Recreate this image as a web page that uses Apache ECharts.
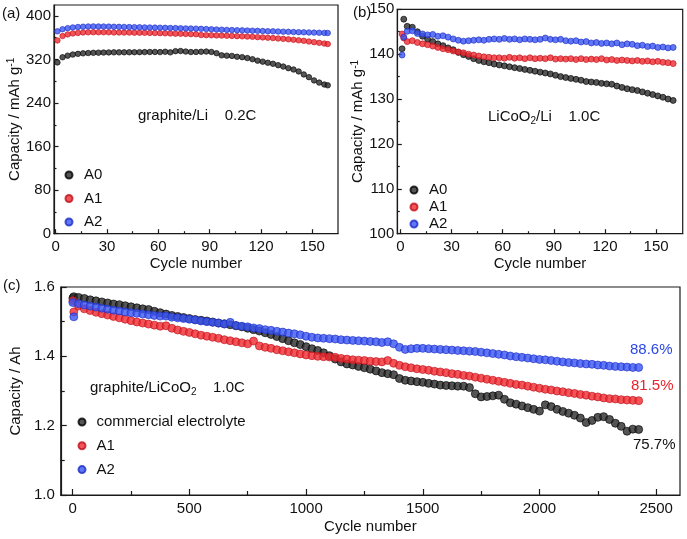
<!DOCTYPE html>
<html>
<head>
<meta charset="utf-8">
<script src="https://cdn.jsdelivr.net/npm/echarts@6/dist/echarts.min.js"></script>
<style>
html,body{margin:0;padding:0;background:#fff;}
#chart{width:687px;height:539px;}
</style>
</head>
<body>
<div id="chart"></div>
<script>
// ---------- DATA ----------
// (a) graphite/Li 0.2C
const cyclesA = [1,4,7,10,13,16,19,22,25,28,31,34,37,40,43,46,49,52,55,58,61,64,67,70,73,76,79,82,85,88,91,94,97,100,103,106,109,112,115,118,121,124,127,130,133,136,139,142,145,148,151,154,157,159];
const capA_A0 = [314.6,324,327,329,330.3,331.2,331.8,332.2,332.5,332.7,332.9,333,333,333.1,333.2,333.3,333.4,333.5,333.7,333.8,333.5,334.2,333.0,335.2,335.5,334.5,333.6,333.8,334.2,334.5,333.8,331.5,327.5,327,326.5,325,324.2,322.5,320.5,317.8,316,314,312,309.5,307,304,301.5,298,292.5,287.5,281.5,277.5,274,272.5];
const capA_A1 = [355.0,363.0,366.0,367.8,368.8,369.5,369.8,370.0,370.0,369.9,369.8,369.6,369.5,369.4,369.3,369.1,369.0,368.9,368.7,368.5,368.3,368.0,367.7,367.4,367.1,366.8,366.5,366.2,364.8,364.6,364.4,364.1,363.8,363.5,363.2,362.8,362.4,362.0,361.5,361.0,360.5,359.9,359.2,358.5,357.8,357.0,356.1,355.2,354.2,353.0,351.8,350.5,349.2,348.3];
const capA_A2 = [371.6,375.5,377.5,378.8,379.6,380.2,380.6,380.7,380.6,380.5,380.3,380.1,379.9,379.7,379.5,379.3,379.1,378.9,378.7,378.5,378.3,378.1,377.9,377.6,377.3,377.0,376.8,376.6,376.2,375.8,375.4,375.0,374.7,374.3,374.0,373.7,373.4,373.1,372.8,372.5,372.2,371.9,371.6,371.3,371.0,370.7,370.4,370.1,369.8,369.5,369.3,369.0,368.8,368.6];

// (b) LiCoO2/Li 1.0C
const cyclesB = [1,2,4,7,10,13,16,19,22,25,28,31,34,37,40,43,46,49,52,55,58,61,64,67,70,73,76,79,82,85,88,91,94,97,100,103,106,109,112,115,118,121,124,127,130,133,136,139,142,145,148,151,154,157,160];
const capB_A0 = [141.2,147.8,146.2,146.0,145.0,144.0,143.3,142.8,142.3,141.9,141.4,141.0,140.4,139.9,139.5,139.0,138.6,138.3,138.1,137.8,137.6,137.4,137.2,137.0,136.8,136.6,136.4,136.2,136.0,135.8,135.6,135.3,135.0,134.8,134.6,134.4,134.2,133.9,133.8,133.7,133.5,133.4,133.3,132.9,132.6,132.3,132.1,131.9,131.6,131.3,131.0,130.7,130.4,130.0,129.7];
const capB_A1 = [144.5,143.6,142.8,143.0,142.6,142.3,142.1,141.8,141.5,141.2,141.0,140.7,140.5,140.3,140.0,139.8,139.6,139.4,139.3,139.2,139.2,139.1,139.3,139.1,139.2,139.0,139.2,139.0,139.1,139.0,139.2,138.9,139.0,138.9,139.0,138.8,139.0,138.8,138.9,138.8,139.0,138.7,138.8,138.6,138.7,138.6,138.5,138.6,138.4,138.5,138.3,138.4,138.2,138.1,137.9];
const capB_A2 = [139.8,143.8,145.1,145.2,144.6,144.5,144.3,144.4,144.0,144.1,143.8,143.4,143.1,142.9,143.0,143.1,143.2,143.1,143.3,143.4,143.3,143.5,143.3,143.4,143.2,143.4,143.3,143.2,143.3,143.6,143.3,143.2,143.3,143.0,142.9,143.0,142.7,142.8,142.5,142.6,142.4,142.5,142.3,142.5,142.1,142.3,142.2,141.9,142.0,141.7,141.8,141.5,141.6,141.4,141.5];

// (c) graphite/LiCoO2 1.0C
const cyclesC = [1,5,25,50,75,100,125,150,175,200,225,250,275,300,325,350,375,400,425,450,475,500,525,550,575,600,625,650,675,700,725,750,775,800,825,850,875,900,925,950,975,1000,1025,1050,1075,1100,1125,1150,1175,1200,1225,1250,1275,1300,1325,1350,1375,1400,1425,1450,1475,1500,1525,1550,1575,1600,1625,1650,1675,1700,1725,1750,1775,1800,1825,1850,1875,1900,1925,1950,1975,2000,2025,2050,2075,2100,2125,2150,2175,2200,2225,2250,2275,2300,2325,2350,2375,2400,2425];
const capC_comm = [1.568,1.572,1.570,1.567,1.563,1.560,1.557,1.554,1.551,1.549,1.546,1.543,1.540,1.537,1.535,1.530,1.526,1.522,1.518,1.515,1.512,1.509,1.506,1.504,1.502,1.499,1.496,1.494,1.491,1.488,1.485,1.481,1.477,1.473,1.468,1.463,1.457,1.451,1.445,1.439,1.434,1.428,1.422,1.417,1.410,1.402,1.392,1.384,1.378,1.375,1.371,1.367,1.363,1.358,1.353,1.350,1.347,1.336,1.331,1.329,1.327,1.325,1.322,1.320,1.317,1.316,1.315,1.314,1.314,1.310,1.292,1.283,1.284,1.286,1.288,1.276,1.266,1.262,1.257,1.252,1.247,1.242,1.260,1.255,1.247,1.241,1.236,1.230,1.222,1.209,1.215,1.224,1.226,1.218,1.207,1.198,1.184,1.190,1.189];
const capC_A1 = [1.560,1.528,1.545,1.537,1.532,1.527,1.523,1.519,1.515,1.511,1.507,1.503,1.499,1.496,1.493,1.490,1.487,1.488,1.481,1.476,1.472,1.469,1.465,1.461,1.458,1.455,1.452,1.448,1.445,1.442,1.439,1.436,1.444,1.430,1.426,1.423,1.419,1.416,1.413,1.410,1.407,1.404,1.402,1.400,1.399,1.398,1.397,1.394,1.392,1.390,1.389,1.388,1.386,1.385,1.384,1.388,1.380,1.374,1.370,1.367,1.364,1.362,1.360,1.357,1.355,1.353,1.350,1.348,1.345,1.343,1.340,1.337,1.334,1.331,1.328,1.325,1.322,1.319,1.317,1.314,1.311,1.308,1.305,1.303,1.300,1.298,1.295,1.293,1.290,1.288,1.285,1.283,1.280,1.278,1.277,1.275,1.274,1.273,1.272];
const capC_A2 = [1.555,1.514,1.552,1.548,1.545,1.542,1.539,1.536,1.533,1.531,1.528,1.526,1.524,1.522,1.520,1.518,1.516,1.516,1.513,1.511,1.509,1.507,1.505,1.502,1.500,1.498,1.496,1.493,1.498,1.489,1.487,1.485,1.482,1.480,1.477,1.475,1.472,1.470,1.467,1.465,1.462,1.458,1.455,1.453,1.452,1.451,1.450,1.448,1.447,1.446,1.445,1.444,1.443,1.442,1.440,1.442,1.436,1.426,1.420,1.422,1.423,1.423,1.422,1.421,1.420,1.419,1.418,1.417,1.416,1.415,1.414,1.412,1.410,1.408,1.406,1.404,1.401,1.399,1.397,1.395,1.393,1.391,1.390,1.388,1.386,1.384,1.382,1.381,1.379,1.378,1.377,1.375,1.374,1.372,1.371,1.370,1.369,1.368,1.368];

// tick labels
const xTicksAB = [0,30,60,90,120,150];
const xMinorAB = [15,45,75,105,135];
const yTicksA = [0,80,160,240,320,400];
const yMinorA = [40,120,200,280,360];
const yTicksB = [100,110,120,130,140,150];
const yMinorB = [105,115,125,135,145];
const xTicksC = [0,500,1000,1500,2000,2500];
const xMinorC = [250,750,1250,1750,2250];
const yTicksC = [1.0,1.2,1.4,1.6];
const yMinorC = [1.1,1.3,1.5];

// ---------- CHART ----------
function check(x, ys){ ys.forEach(y=>{ if (y.length!==x.length) throw new Error('length mismatch '+x.length+' vs '+y.length); }); }
check(cyclesA,[capA_A0,capA_A1,capA_A2]);
check(cyclesB,[capB_A0,capB_A1,capB_A2]);
check(cyclesC,[capC_comm,capC_A1,capC_A2]);
function zip(xs, ys){ return xs.map((x,i)=>[x, ys[i]]); }

const FONT = '"Liberation Sans", Arial, sans-serif';
const AX = '#1a1a1a';
const TXT = '#111';
const BLACK = {color:'#2a2a2a', borderColor:'#000', borderWidth:0.8};
const RED = {color:'#ee2a30', borderColor:'#c0101a', borderWidth:0.8};
const BLUE = {color:'#3a55f0', borderColor:'#1c2cc8', borderWidth:0.8};

// per grid, per dimension: axis 0 = line + labels + major ticks + name; axis 1 = minor ticks only
function mainAxis(dim, grid, min, max, majors, len, opts){
  return {
    type:'value', gridIndex:grid, min:min, max:max,
    axisLine:{show:true, onZero:false, lineStyle:{color:AX, width:1.2}},
    axisTick:{show:true, inside:true, length:len, customValues:majors, lineStyle:{color:AX, width:1.2}},
    axisLabel:{customValues:majors, margin:opts.margin, fontSize:15, color:TXT, fontFamily:FONT,
               formatter: opts.fmt || (v=>String(v))},
    splitLine:{show:false},
    name: opts.name, nameLocation:'middle', nameGap: opts.nameGap,
    nameTextStyle:{fontSize:15, color:TXT, fontFamily:FONT, rich:{
      sup:{fontSize:10, color:TXT, fontFamily:FONT, verticalAlign:'top', padding:[0,0,6,0]},
      n:{fontSize:15, color:TXT, fontFamily:FONT}
    }}
  };
}
function minorAxis(dim, grid, min, max, minors, len){
  return {
    type:'value', gridIndex:grid, min:min, max:max,
    position: dim==='x' ? 'bottom' : 'left',
    axisLine:{show:false, onZero:false},
    axisTick:{show:true, inside:true, length:len, customValues:minors, lineStyle:{color:AX, width:1.2}},
    axisLabel:{show:false}, splitLine:{show:false}
  };
}

const yNameMAh = '{n|Capacity / mAh g}{sup|-1}';

const option = {
  backgroundColor:'#fff',
  animation:false,
  grid:[
    {left:54, top:5, width:284, height:228.7, show:true, borderColor:AX, borderWidth:1.2},
    {left:397.3, top:9.3, width:285.4, height:224.4, show:true, borderColor:AX, borderWidth:1.2},
    {left:59.3, top:287, width:620.7, height:208, show:true, borderColor:AX, borderWidth:1.2}
  ],
  xAxis:[
    mainAxis('x',0,-1,165,xTicksAB,4.5,{margin:6,name:'Cycle number',nameGap:23}),
    minorAxis('x',0,-1,165,xMinorAB,2.5),
    mainAxis('x',1,-1.8,165.6,xTicksAB,4.5,{margin:6,name:'Cycle number',nameGap:23}),
    minorAxis('x',1,-1.8,165.6,xMinorAB,2.5),
    mainAxis('x',2,-51,2602,xTicksC,6,{margin:6.5,name:'Cycle number',nameGap:24}),
    minorAxis('x',2,-51,2602,xMinorC,4)
  ],
  yAxis:[
    mainAxis('y',0,0,420,yTicksA,4.5,{margin:3,name:yNameMAh,nameGap:30}),
    minorAxis('y',0,0,420,yMinorA,2.5),
    mainAxis('y',1,100,150,yTicksB,4.5,{margin:3,name:yNameMAh,nameGap:26}),
    minorAxis('y',1,100,150,yMinorB,2.5),
    mainAxis('y',2,1.0,1.6,yTicksC,6,{margin:6,name:'Capacity / Ah',nameGap:36,fmt:v=>Number(v).toFixed(1)}),
    minorAxis('y',2,1.0,1.6,yMinorC,4)
  ],
  legend:[
    {data:['A0','A1','A2'], orient:'vertical', left:64.5, top:167.5, padding:0, itemWidth:7, itemHeight:7, itemGap:8.5, icon:'circle', selectedMode:false,
     textStyle:{fontSize:15, color:TXT, fontFamily:FONT, padding:[0,0,0,6.5]}},
    {data:['A0','A1','A2'], orient:'vertical', left:409.5, top:182.5, padding:0, itemWidth:7, itemHeight:7, itemGap:2, icon:'circle', selectedMode:false,
     textStyle:{fontSize:15, color:TXT, fontFamily:FONT, padding:[0,0,0,6.5]}},
    {data:['commercial electrolyte','A1','A2'], orient:'vertical', left:77.5, top:414.5, padding:0, itemWidth:7, itemHeight:7, itemGap:8.8, icon:'circle', selectedMode:false,
     textStyle:{fontSize:15, color:TXT, fontFamily:FONT, padding:[0,0,0,6]}}
  ],
  graphic:[
    {type:'text', x:2, y:14, style:{text:'(a)', font:'15px '+FONT, fill:TXT, textVerticalAlign:'middle'}},
    {type:'text', x:353, y:13, style:{text:'(b)', font:'15px '+FONT, fill:TXT, textVerticalAlign:'middle'}},
    {type:'text', x:3, y:286, style:{text:'(c)', font:'15px '+FONT, fill:TXT, textVerticalAlign:'middle'}},
    {type:'text', x:138, y:116, style:{text:'graphite/Li    0.2C', font:'15px '+FONT, fill:TXT, textVerticalAlign:'middle'}},
    {type:'text', x:488, y:117, style:{text:'{n|LiCoO}{s|2}{n|/Li    1.0C}', textVerticalAlign:'middle',
      rich:{n:{fontSize:15, fontFamily:FONT, fill:TXT, color:TXT, lineHeight:18}, s:{fontSize:10, fontFamily:FONT, color:TXT, fill:TXT, verticalAlign:'bottom', lineHeight:18}}}},
    {type:'text', x:90, y:388, style:{text:'{n|graphite/LiCoO}{s|2}{n|    1.0C}', textVerticalAlign:'middle',
      rich:{n:{fontSize:15, fontFamily:FONT, fill:TXT, color:TXT, lineHeight:18}, s:{fontSize:10, fontFamily:FONT, color:TXT, fill:TXT, verticalAlign:'bottom', lineHeight:18}}}},
    {type:'text', x:630, y:350, style:{text:'88.6%', font:'15px '+FONT, fill:'#2b45e8', textVerticalAlign:'middle'}},
    {type:'text', x:631, y:386, style:{text:'81.5%', font:'15px '+FONT, fill:'#e8232b', textVerticalAlign:'middle'}},
    {type:'text', x:633, y:445, style:{text:'75.7%', font:'15px '+FONT, fill:TXT, textVerticalAlign:'middle'}}
  ],
  series:[
    {type:'scatter', name:'A0', xAxisIndex:0, yAxisIndex:0, data:zip(cyclesA,capA_A0), symbolSize:5.5, itemStyle:BLACK, silent:true},
    {type:'scatter', name:'A1', xAxisIndex:0, yAxisIndex:0, data:zip(cyclesA,capA_A1), symbolSize:5.5, itemStyle:RED, silent:true},
    {type:'scatter', name:'A2', xAxisIndex:0, yAxisIndex:0, data:zip(cyclesA,capA_A2), symbolSize:5.5, itemStyle:BLUE, silent:true},
    {type:'scatter', name:'A0', xAxisIndex:2, yAxisIndex:2, data:zip(cyclesB,capB_A0), symbolSize:6, itemStyle:BLACK, silent:true},
    {type:'scatter', name:'A1', xAxisIndex:2, yAxisIndex:2, data:zip(cyclesB,capB_A1), symbolSize:6, itemStyle:RED, silent:true},
    {type:'scatter', name:'A2', xAxisIndex:2, yAxisIndex:2, data:zip(cyclesB,capB_A2), symbolSize:6, itemStyle:BLUE, silent:true},
    {type:'scatter', name:'commercial electrolyte', xAxisIndex:4, yAxisIndex:4, data:zip(cyclesC,capC_comm), symbolSize:8, itemStyle:BLACK, silent:true},
    {type:'scatter', name:'A1', xAxisIndex:4, yAxisIndex:4, data:zip(cyclesC,capC_A1), symbolSize:8, itemStyle:RED, silent:true},
    {type:'scatter', name:'A2', xAxisIndex:4, yAxisIndex:4, data:zip(cyclesC,capC_A2), symbolSize:8, itemStyle:BLUE, silent:true}
  ]
};
const chart = echarts.init(document.getElementById('chart'), null, {renderer:'canvas'});
chart.setOption(option);
</script>
</body>
</html>
